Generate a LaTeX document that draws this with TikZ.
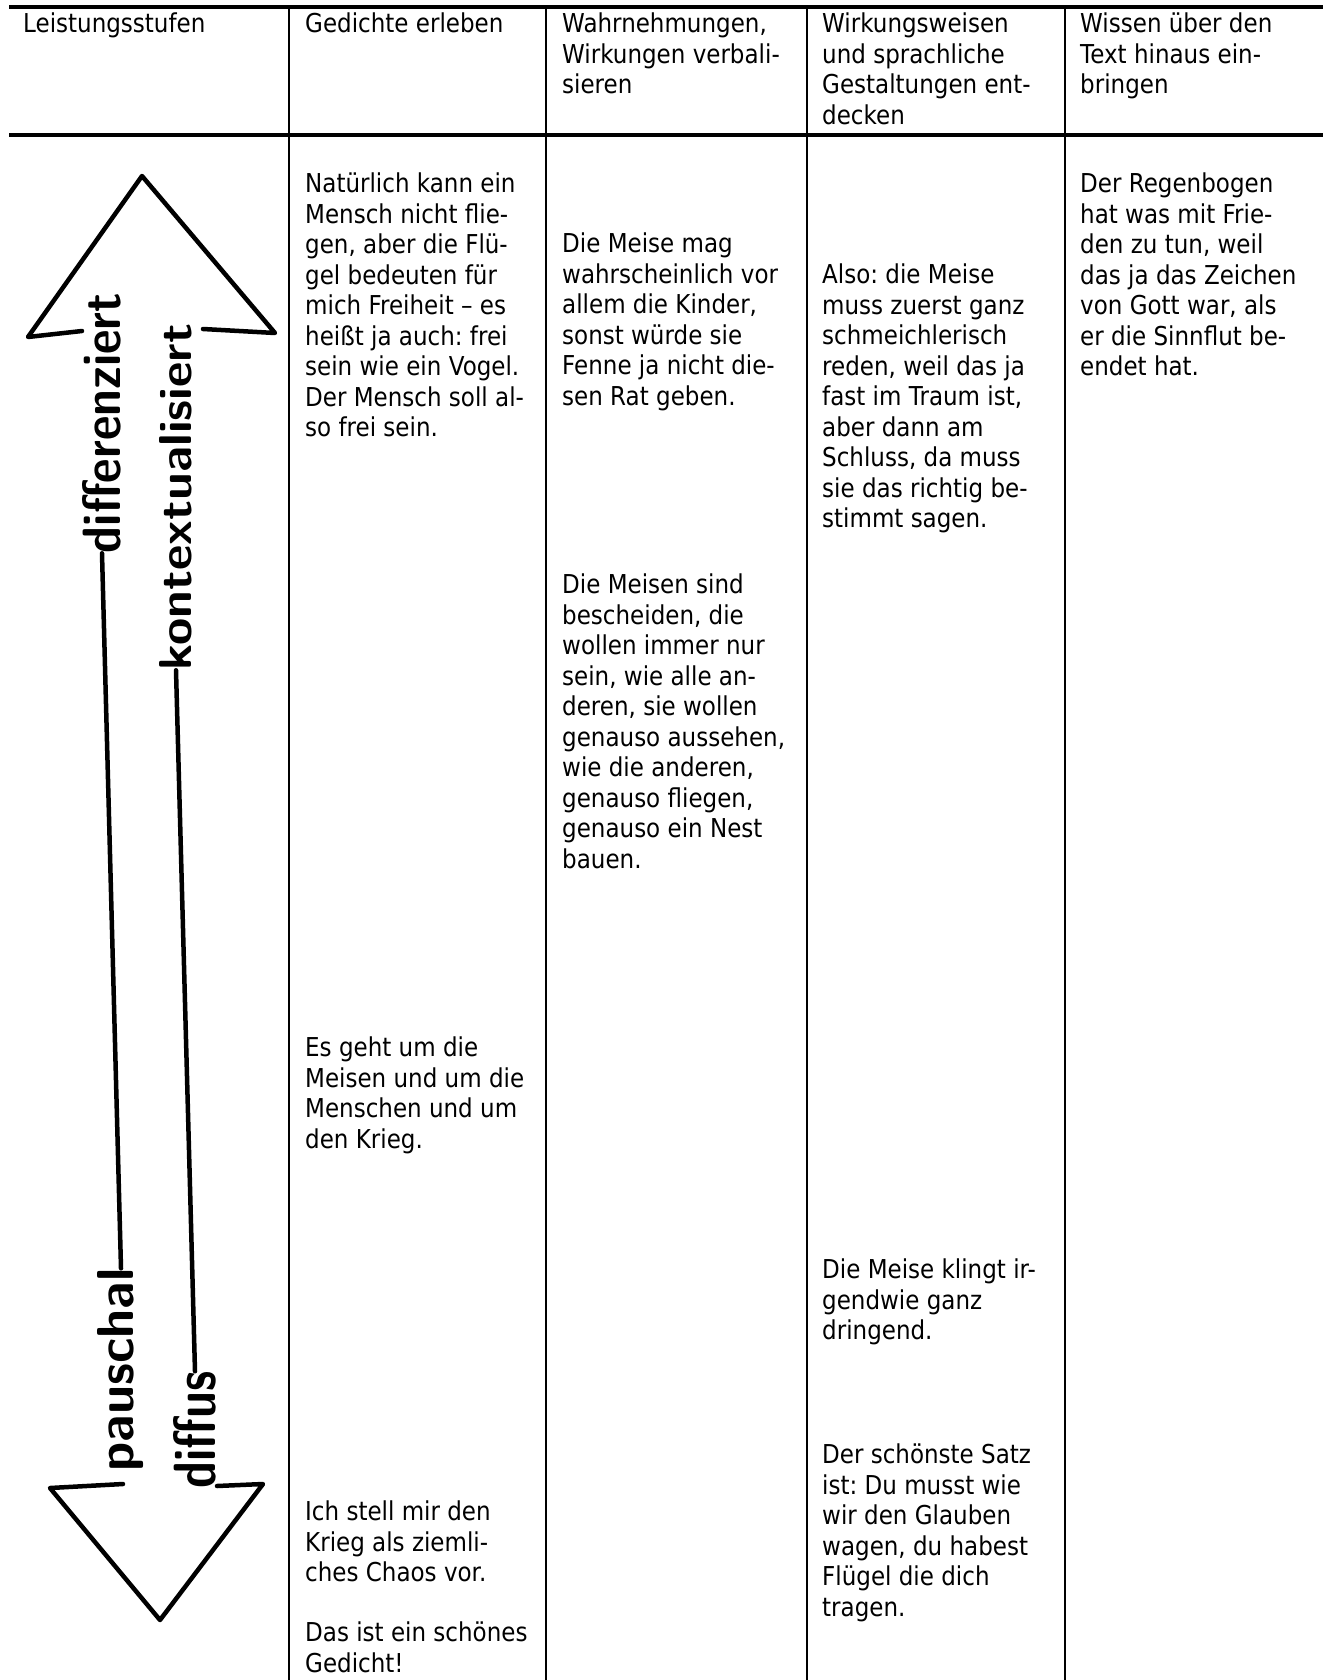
\documentclass[tikz,border=0pt]{standalone}
\usepackage{fontspec}
\setmainfont{DejaVu Sans}[FakeStretch=0.885]
\usepackage{graphicx}
\newcommand{\cellfont}{\fontsize{26}{30.5}\selectfont\frenchspacing}

\begin{document}
\begin{tikzpicture}[x=1pt,y=-1pt,
        cell/.style={anchor=north west,inner sep=0pt,align=left,font=\cellfont},
        hand/.style={rotate=90,inner sep=0pt,font=\sffamily\bfseries},
        thickrule/.style={line width=4.5pt},
        colline/.style={line width=2.5pt},
        pen/.style={line width=4.5pt,line cap=round,line join=round}]
        \useasboundingbox (0,0) rectangle (1323,1680);
        \draw[thickrule] (9,7)--(1323,7);
        \draw[thickrule] (9,135)--(1323,135);
        \foreach \x in {289,546,807,1065}
                \draw[colline] (\x,7)--(\x,1680);

        \node[cell] (h0) at (23,13) {Leistungsstufen};
        \node[cell] (h1) at (305,13) {Gedichte erleben};
        \node[cell] (h2) at (562,13) {Wahrnehmungen,\\Wirkungen verbali-\\sieren};
        \node[cell] (h3) at (822,13) {Wirkungsweisen\\und sprachliche\\Gestaltungen ent-\\decken};
        \node[cell] (h4) at (1080,13) {Wissen über den\\Text hinaus ein-\\bringen};

        \node[cell] (erleben1) at (305,173) {Natürlich kann ein\\Mensch nicht flie-\\gen, aber die Flü-\\gel bedeuten für\\mich Freiheit – es\\heißt ja auch: frei\\sein wie ein Vogel.\\Der Mensch soll al-\\so frei sein.};
        \node[cell] (erleben2) at (305,1037) {Es geht um die\\Meisen und um die\\Menschen und um\\den Krieg.};
        \node[cell] (erleben3) at (305,1501) {Ich stell mir den\\Krieg als ziemli-\\ches Chaos vor.};
        \node[cell] (erleben4) at (305,1622) {Das ist ein schönes\\Gedicht!};

        \node[cell] (wahrn1) at (562,233) {Die Meise mag\\wahrscheinlich vor\\allem die Kinder,\\sonst würde sie\\Fenne ja nicht die-\\sen Rat geben.};
        \node[cell] (wahrn2) at (562,574) {Die Meisen sind\\bescheiden, die\\wollen immer nur\\sein, wie alle an-\\deren, sie wollen\\genauso aussehen,\\wie die anderen,\\genauso fliegen,\\genauso ein Nest\\bauen.};

        \node[cell] (wirk1) at (822,264) {Also: die Meise\\muss zuerst ganz\\schmeichlerisch\\reden, weil das ja\\fast im Traum ist,\\aber dann am\\Schluss, da muss\\sie das richtig be-\\stimmt sagen.};
        \node[cell] (wirk2) at (822,1259) {Die Meise klingt ir-\\gendwie ganz\\dringend.};
        \node[cell] (wirk3) at (822,1444) {Der schönste Satz\\ist: Du musst wie\\wir den Glauben\\wagen, du habest\\Flügel die dich\\tragen.};

        \node[cell] (wissen1) at (1080,173) {Der Regenbogen\\hat was mit Frie-\\den zu tun, weil\\das ja das Zeichen\\von Gott war, als\\er die Sinnflut be-\\endet hat.};

        \node[hand] (dif) at (102,423) {\resizebox{260pt}{38pt}{differenziert}};
        \node[hand] (kon) at (176,497) {\resizebox{346pt}{32pt}{kontextualisiert}};
        \node[hand] (pau) at (121,1370) {\resizebox{203pt}{36pt}{pauschal}};
        \node[hand] (dff) at (195,1430) {\resizebox{117pt}{42pt}{diffus}};
        \draw[pen] (dif.west)--(pau.east);
        \draw[pen] (kon.west)--(dff.east);
        \draw[pen] (82,331)--(28,337)--(142,176)--(275,333)--(203,329);
        \draw[pen] (123,1484)--(50,1488)--(160,1620)--(263,1484)--(217,1486);
\end{tikzpicture}
\end{document}
